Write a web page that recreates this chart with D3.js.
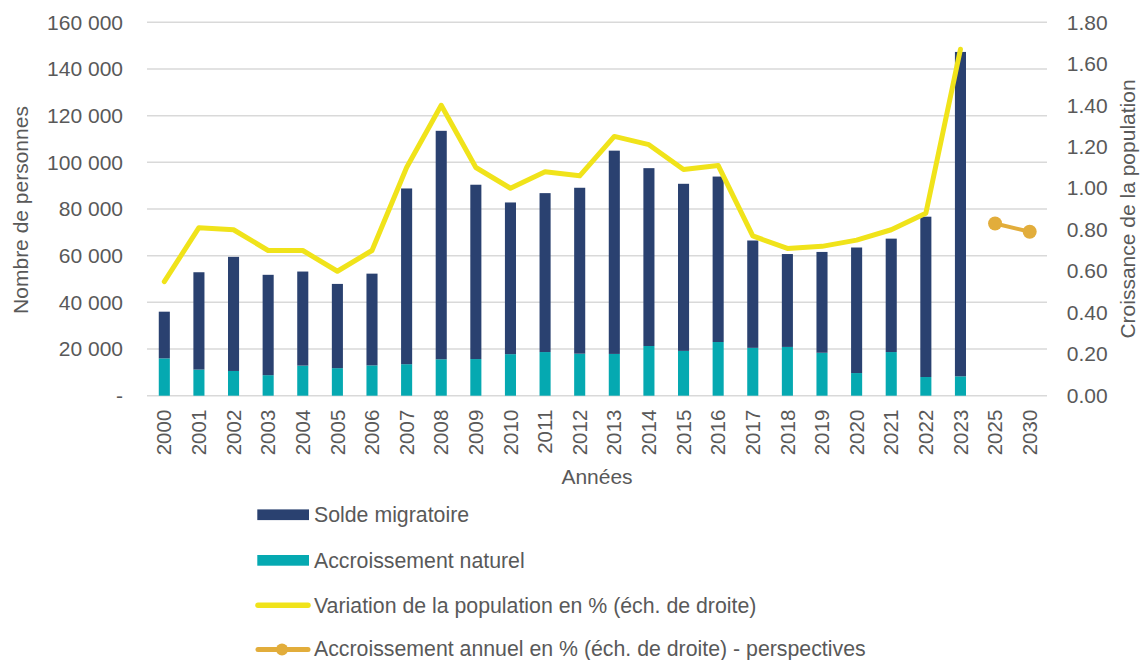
<!DOCTYPE html>
<html>
<head>
<meta charset="utf-8">
<script src="https://cdn.jsdelivr.net/npm/d3@7"></script>
<style>
  html, body { margin: 0; padding: 0; background: #fff; }
  svg { display: block; font-family: "Liberation Sans", Arial, sans-serif; }
</style>
</head>
<body>
<svg id="chart" width="1141" height="660"></svg>
<script>
// ---- Data ----
const years = ["2000","2001","2002","2003","2004","2005","2006","2007","2008","2009","2010","2011","2012","2013","2014","2015","2016","2017","2018","2019","2020","2021","2022","2023","2025","2030"];
// Accroissement naturel (bottom segment)
const naturel = [16000,11200,10600,8800,12900,11800,13000,13500,15600,15700,17800,18700,18000,17900,21300,19200,23000,20500,20900,18400,9700,18700,8000,8300,null,null];
// Solde migratoire (top segment)
const migratoire = [20000,41700,48900,43000,40300,36100,39300,75300,97900,74700,65000,68100,71100,87100,76200,71600,70900,46000,39800,43200,53800,48600,68700,139000,null,null];
// Variation de la population en % (right scale)
const variation = [0.55,0.81,0.80,0.70,0.70,0.60,0.70,1.10,1.40,1.10,1.00,1.08,1.06,1.25,1.21,1.09,1.11,0.77,0.71,0.72,0.75,0.80,0.88,1.67,null,null];
// Accroissement annuel en % - perspectives (right scale)
const perspectives = [null,null,null,null,null,null,null,null,null,null,null,null,null,null,null,null,null,null,null,null,null,null,null,null,0.83,0.79];
const leftTicks = [0,20000,40000,60000,80000,100000,120000,140000,160000];
const rightTicks = [0,0.2,0.4,0.6,0.8,1.0,1.2,1.4,1.6,1.8];
const legendLabels = ["Solde migratoire","Accroissement naturel","Variation de la population en % (éch. de droite)","Accroissement annuel en % (éch. de droite) - perspectives"];

// ---- Styles ----
const C_NAVY = "#2A4170", C_TEAL = "#05A9B1", C_YELLOW = "#F0E31A", C_ORANGE = "#E2AD3B";
const TXT = "#595959", GRID = "#D9D9D9";

const svg = d3.select("#chart");
const pL = 147, pR = 1047, pT = 22.3, pB = 395.7;

const x = d3.scaleBand().domain(years).range([pL, pR]).paddingInner(0.68).paddingOuter(0.34);
const yL = d3.scaleLinear().domain([0,160000]).range([pB, pT]);
const yR = d3.scaleLinear().domain([0,1.8]).range([pB, pT]);
const cx = d => x(d) + x.bandwidth()/2;

// gridlines
svg.append("g").selectAll("line").data(leftTicks).join("line")
  .attr("x1", pL).attr("x2", pR)
  .attr("y1", d => yL(d)).attr("y2", d => yL(d))
  .attr("stroke", GRID).attr("stroke-width", 1.5);

// left axis
const fmtL = d => d === 0 ? "-" : d3.format(",")(d).replace(/,/g, " ");
const gL = svg.append("g").attr("transform", `translate(${pL - 24},0)`)
  .call(d3.axisLeft(yL).tickValues(leftTicks).tickFormat(fmtL).tickSize(0).tickPadding(0));
gL.select(".domain").remove();
gL.selectAll("text").attr("fill", TXT).style("font-size", "21px").style("font-family", '"Liberation Sans", Arial, sans-serif');

// right axis
const gR = svg.append("g").attr("transform", `translate(${pR + 19.7},0)`)
  .call(d3.axisRight(yR).tickValues(rightTicks).tickFormat(d3.format(".2f")).tickSize(0).tickPadding(0));
gR.select(".domain").remove();
gR.selectAll("text").attr("fill", TXT).style("font-size", "21px").style("font-family", '"Liberation Sans", Arial, sans-serif');

// x axis
const gX = svg.append("g").attr("transform", `translate(0,${pB})`)
  .call(d3.axisBottom(x).tickSize(0).tickPadding(0));
gX.select(".domain").remove();
gX.selectAll("text")
  .attr("fill", TXT).style("font-size", "20.5px").style("font-family", '"Liberation Sans", Arial, sans-serif')
  .attr("text-anchor", "end")
  .attr("transform", "translate(0,14) rotate(-90)")
  .attr("x", 0).attr("y", 0).attr("dy", "0.35em");

// bars
const bars = svg.append("g");
years.forEach((yr, i) => {
  if (naturel[i] == null) return;
  bars.append("rect")
    .attr("x", x(yr)).attr("width", x.bandwidth())
    .attr("y", yL(naturel[i])).attr("height", yL(0) - yL(naturel[i]))
    .attr("fill", C_TEAL);
  bars.append("rect")
    .attr("x", x(yr)).attr("width", x.bandwidth())
    .attr("y", yL(naturel[i] + migratoire[i])).attr("height", yL(naturel[i]) - yL(naturel[i] + migratoire[i]))
    .attr("fill", C_NAVY);
});

// variation line
const lineVar = d3.line().defined(d => d[1] != null).x(d => cx(d[0])).y(d => yR(d[1]));
svg.append("path")
  .datum(years.map((y, i) => [y, variation[i]]))
  .attr("d", lineVar).attr("fill", "none")
  .attr("stroke", C_YELLOW).attr("stroke-width", 5)
  .attr("stroke-linejoin", "round").attr("stroke-linecap", "round");

// perspectives line
const persp = years.map((y, i) => [y, perspectives[i]]).filter(d => d[1] != null);
svg.append("path")
  .datum(persp)
  .attr("d", lineVar).attr("fill", "none")
  .attr("stroke", C_ORANGE).attr("stroke-width", 4);
svg.append("g").selectAll("circle").data(persp).join("circle")
  .attr("cx", d => cx(d[0])).attr("cy", d => yR(d[1])).attr("r", 7)
  .attr("fill", C_ORANGE);

// axis titles
svg.append("text").attr("x", 597).attr("y", 484).attr("text-anchor", "middle")
  .attr("fill", TXT).style("font-size", "21px").text("Années");
svg.append("text").attr("transform", "translate(28,210) rotate(-90)").attr("text-anchor", "middle")
  .attr("fill", TXT).style("font-size", "21px").text("Nombre de personnes");
svg.append("text").attr("transform", "translate(1135,209) rotate(-90)").attr("text-anchor", "middle")
  .attr("fill", TXT).style("font-size", "21px").text("Croissance de la population");

// legend
const rows = [514.7, 560.3, 605.3, 649.5];
const lg = svg.append("g");
lg.append("rect").attr("x", 257.3).attr("y", rows[0] - 5.3).attr("width", 51.7).attr("height", 10.7).attr("fill", C_NAVY);
lg.append("rect").attr("x", 257.3).attr("y", rows[1] - 5.3).attr("width", 51.7).attr("height", 10.7).attr("fill", C_TEAL);
lg.append("line").attr("x1", 258).attr("x2", 308).attr("y1", rows[2]).attr("y2", rows[2])
  .attr("stroke", C_YELLOW).attr("stroke-width", 5.5).attr("stroke-linecap", "round");
lg.append("line").attr("x1", 258).attr("x2", 308).attr("y1", rows[3]).attr("y2", rows[3])
  .attr("stroke", C_ORANGE).attr("stroke-width", 5).attr("stroke-linecap", "round");
lg.append("circle").attr("cx", 282).attr("cy", rows[3]).attr("r", 6).attr("fill", C_ORANGE);
lg.selectAll("text.lbl").data(legendLabels).join("text").attr("class", "lbl")
  .attr("x", 314).attr("y", (d, i) => rows[i] + (i === 3 ? 6 : 7.5))
  .attr("fill", TXT).style("font-size", "21.3px").text(d => d);
</script>
</body>
</html>
